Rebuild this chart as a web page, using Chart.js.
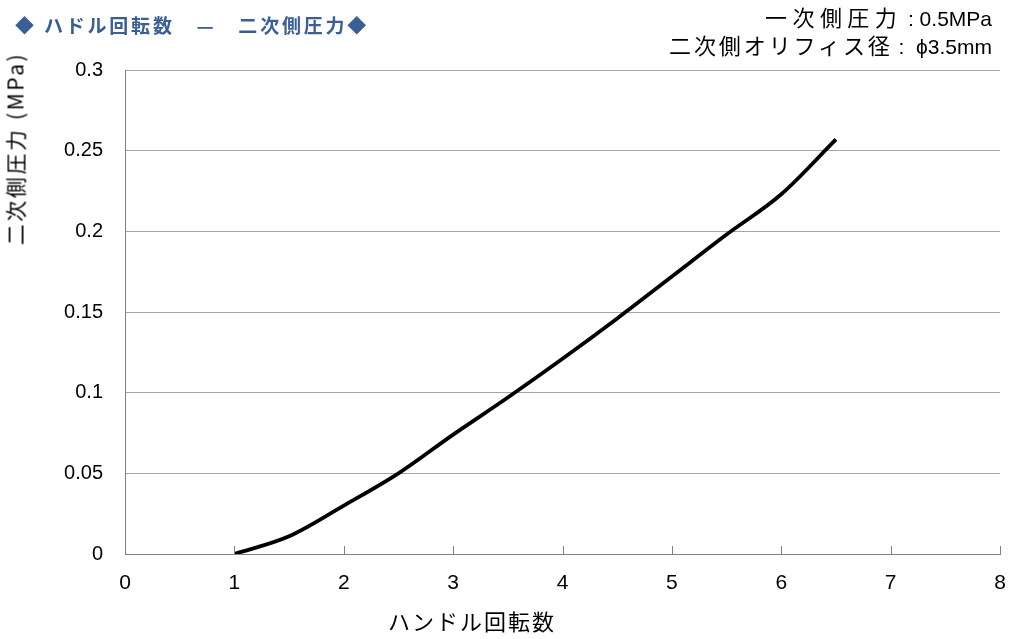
<!DOCTYPE html>
<html><head><meta charset="utf-8">
<script src="https://cdn.jsdelivr.net/npm/chart.js@4"></script>
<style>
html,body{margin:0;padding:0;background:#fff;}
#wrap{position:relative;width:1024px;height:639px;}
canvas{position:absolute;left:0;top:0;}
.t{position:absolute;white-space:nowrap;font-family:"Noto Sans CJK JP","Liberation Sans",sans-serif;line-height:1;}
#title{left:15px;top:15px;font-size:19px;font-weight:bold;color:#3a5f94;letter-spacing:2.8px;}
#n1{right:32px;top:5px;font-size:22px;color:#000;}
#n2{right:32px;top:33px;font-size:22px;color:#000;}
.j1{letter-spacing:5.4px;}
.j2{letter-spacing:2.9px;}
.l{font-family:"Liberation Sans",sans-serif;font-size:21px;white-space:pre;}
#ytitle{left:-95px;top:138px;width:220px;text-align:center;font-size:21px;transform:rotate(-90deg);color:#000;letter-spacing:2.6px;}
#xtitle{left:388px;top:609px;font-size:22px;color:#000;letter-spacing:2px;}
</style></head>
<body><div id="wrap">
<canvas id="c" width="1024" height="639"></canvas>
<div class="t" id="title">◆ ハドル回転数　—　二次側圧力◆</div>
<div class="t" id="n1"><span class="j1">一次側圧力</span><span class="l"> : 0.5MPa</span></div>
<div class="t" id="n2"><span class="j2">二次側オリフィス径</span><span class="l"> :  ϕ3.5mm</span></div>
<div class="t" id="ytitle">二次側圧力 (MPa)</div>
<div class="t" id="xtitle">ハンドル回転数</div>
</div>
<script>
const turns = [1, 1.5, 2, 2.5, 3, 3.5, 4, 4.5, 5, 5.5, 6, 6.5];
const pressure = [0, 0.011, 0.030, 0.050, 0.074, 0.097, 0.121, 0.146, 0.172, 0.198, 0.223, 0.257];
const xTicks = [0,1,2,3,4,5,6,7,8];
const yTicks = [0,0.05,0.1,0.15,0.2,0.25,0.3];

const tickMarks = {
  id:'tickMarks',
  afterDraw(chart){
    const ctx = chart.ctx, xs = chart.scales.x, ys = chart.scales.y;
    ctx.save();
    ctx.strokeStyle = '#808080'; ctx.lineWidth = 1;
    xTicks.forEach(v=>{
      const px = Math.round(xs.getPixelForValue(v))+0.5;
      ctx.beginPath(); ctx.moveTo(px, ys.bottom); ctx.lineTo(px, ys.bottom-8); ctx.stroke();
    });
    ctx.restore();
  }
};

new Chart(document.getElementById('c'), {
  type:'line',
  data:{ datasets:[{ data: turns.map((t,i)=>({x:t,y:pressure[i]})), borderColor:'#000', borderWidth:3.8, pointRadius:0, cubicInterpolationMode:'monotone', fill:false }]},
  options:{
    responsive:false, animation:false,
    layout:{padding:{top:70,right:24,left:0,bottom:0}},
    plugins:{legend:{display:false},tooltip:{enabled:false}},
    scales:{
      x:{type:'linear',min:0,max:8,
        afterBuildTicks(s){s.ticks = xTicks.map(v=>({value:v}));},
        afterFit(s){s.height=85;},
        grid:{display:false, drawTicks:false},
        border:{display:true,color:'#808080',width:1},
        ticks:{padding:17,color:'#000',font:{family:'Liberation Sans Narrow, Liberation Sans',size:21},maxRotation:0}
      },
      y:{type:'linear',min:0,max:0.3,
        afterBuildTicks(s){s.ticks = yTicks.map(v=>({value:v}));},
        afterFit(s){s.width=125;},
        grid:{color:'#a6a6a6',drawTicks:false,lineWidth:1},
        border:{display:true,color:'#808080',width:1},
        ticks:{padding:22,color:'#000',font:{family:'Liberation Sans',size:20},callback:v=>String(v)}
      }
    }
  },
  plugins:[tickMarks]
});
</script>
</body></html>
